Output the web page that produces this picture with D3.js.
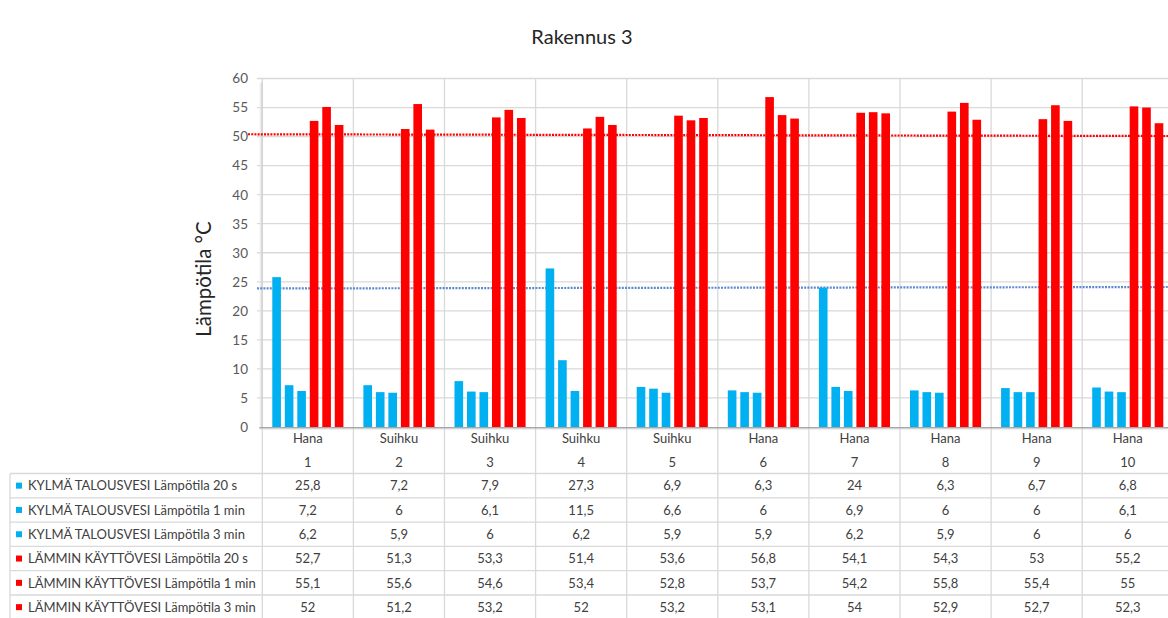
<!DOCTYPE html>
<html>
<head>
<meta charset="utf-8">
<script src="https://cdn.jsdelivr.net/npm/d3@7"></script>
<style>
  html, body { margin: 0; padding: 0; background: #fff; }
  svg { display: block; font-family: Lato, "Open Sans", sans-serif; }
</style>
</head>
<body>
<svg id="chart" width="1168" height="618"></svg>
<script>
// Measurement points (tap / shower) and their numbers
const pointTypes = ["Hana", "Suihku", "Suihku", "Suihku", "Suihku", "Hana", "Hana", "Hana", "Hana", "Hana"];
const pointIds = ["1", "2", "3", "4", "5", "6", "7", "8", "9", "10"];

// Series names
const seriesNames = [
  "KYLMÄ TALOUSVESI Lämpötila 20 s",
  "KYLMÄ TALOUSVESI Lämpötila 1 min",
  "KYLMÄ TALOUSVESI Lämpötila 3 min",
  "LÄMMIN KÄYTTÖVESI Lämpötila 20 s",
  "LÄMMIN KÄYTTÖVESI Lämpötila 1 min",
  "LÄMMIN KÄYTTÖVESI Lämpötila 3 min"
];

// Temperatures, °C
const cold20s = [25.8, 7.2, 7.9, 27.3, 6.9, 6.3, 24, 6.3, 6.7, 6.8];
const cold1min = [7.2, 6, 6.1, 11.5, 6.6, 6, 6.9, 6, 6, 6.1];
const cold3min = [6.2, 5.9, 6, 6.2, 5.9, 5.9, 6.2, 5.9, 6, 6];
const hot20s = [52.7, 51.3, 53.3, 51.4, 53.6, 56.8, 54.1, 54.3, 53, 55.2];
const hot1min = [55.1, 55.6, 54.6, 53.4, 52.8, 53.7, 54.2, 55.8, 55.4, 55];
const hot3min = [52, 51.2, 53.2, 52, 53.2, 53.1, 54, 52.9, 52.7, 52.3];

// Dotted guide lines: value at the left end and at the right end
const hotGuide = [50.4, 50.1];
const coldGuide = [23.85, 24.1];

const yTicks = [0, 5, 10, 15, 20, 25, 30, 35, 40, 45, 50, 55, 60];

const seriesValues = [cold20s, cold1min, cold3min, hot20s, hot1min, hot3min];
const COLD = "#00B0F0", HOT = "#FF0000";
const seriesColors = [COLD, COLD, COLD, HOT, HOT, HOT];

const W = 1168, H = 618;
const plot = { left: 262.3, top: 78.5, bottom: 427, catW: 91.1 };
const plotRight = plot.left + plot.catW * pointIds.length;
const svg = d3.select("#chart");
const grid = "#d9d9d9";

const x0 = d3.scaleBand().domain(pointIds).range([plot.left, plotRight]).padding(0);
const x1 = d3.scaleBand().domain(d3.range(seriesNames.length))
  .range([10, x0.bandwidth() - 10]).paddingInner(0.31).paddingOuter(0);
const y = d3.scaleLinear().domain([0, 60]).range([plot.bottom, plot.top]);

// Title
svg.append("text").attr("x", 582).attr("y", 44).attr("text-anchor", "middle")
  .attr("font-size", 20).attr("fill", "#262626").text("Rakennus 3");

// Horizontal gridlines
svg.append("g").selectAll("line").data(yTicks.filter(d => d > 0)).join("line")
  .attr("x1", 257).attr("x2", W).attr("y1", d => y(d)).attr("y2", d => y(d))
  .attr("stroke", grid).attr("stroke-width", 1.3);

// Vertical category separators (plot and table)
svg.append("g").selectAll("line").data(pointIds).join("line")
  .attr("x1", d => x0(d)).attr("x2", d => x0(d))
  .attr("y1", plot.top).attr("y2", H)
  .attr("stroke", grid).attr("stroke-width", 1.3);

// Soft shadow along the left and bottom of the plot area
const defs = svg.append("defs");
const gb = defs.append("linearGradient").attr("id", "shB").attr("x1", 0).attr("x2", 0).attr("y1", 0).attr("y2", 1);
gb.append("stop").attr("offset", 0).attr("stop-color", "#8c8c8c");
gb.append("stop").attr("offset", 1).attr("stop-color", "#ffffff").attr("stop-opacity", 0);
const gl = defs.append("linearGradient").attr("id", "shL").attr("x1", 1).attr("x2", 0).attr("y1", 0).attr("y2", 0);
gl.append("stop").attr("offset", 0).attr("stop-color", "#c8c8c8");
gl.append("stop").attr("offset", 1).attr("stop-color", "#ffffff").attr("stop-opacity", 0);
svg.append("rect").attr("x", plot.left - 4).attr("y", plot.top + 4).attr("width", 4)
  .attr("height", plot.bottom - plot.top - 4).attr("fill", "url(#shL)");
svg.append("rect").attr("x", plot.left - 3).attr("y", plot.bottom).attr("width", W - plot.left + 3)
  .attr("height", 4).attr("fill", "url(#shB)");

// Y axis tick labels
svg.append("g").selectAll("text").data(yTicks).join("text")
  .attr("x", 248).attr("y", d => y(d)).attr("dy", "0.36em").attr("text-anchor", "end")
  .attr("font-size", 13.5).attr("fill", "#595959").text(d => d);

// Y axis title
svg.append("text").attr("transform", "translate(211,279) rotate(-90)")
  .attr("text-anchor", "middle").attr("font-size", 20.5).attr("fill", "#262626")
  .text("Lämpötila °C");

// Dotted guide lines (behind bars)
const guideX = d3.scaleLinear().domain([0, 1]).range([248, W]);
svg.append("line")
  .attr("x1", guideX(0)).attr("x2", guideX(1))
  .attr("y1", y(hotGuide[0])).attr("y2", y(hotGuide[1]))
  .attr("stroke", HOT).attr("stroke-width", 2.2).attr("stroke-dasharray", "2 1.2");
svg.append("line")
  .attr("x1", 257).attr("x2", guideX(1))
  .attr("y1", y(coldGuide[0])).attr("y2", y(coldGuide[1]))
  .attr("stroke", "#5B8ACF").attr("stroke-width", 2.2).attr("stroke-dasharray", "2 1.2");

// Bars
const groups = svg.append("g").selectAll("g").data(pointIds).join("g")
  .attr("transform", d => `translate(${x0(d)},0)`);
groups.selectAll("rect")
  .data((d, i) => seriesValues.map((vals, s) => ({ s, v: vals[i] })))
  .join("rect")
  .attr("x", d => x1(d.s)).attr("width", x1.bandwidth())
  .attr("y", d => y(d.v)).attr("height", d => y(0) - y(d.v))
  .attr("fill", d => seriesColors[d.s]);

// Category labels under the plot
svg.append("g").selectAll("text").data(pointTypes).join("text")
  .attr("x", (d, i) => x0(pointIds[i]) + x0.bandwidth() / 2).attr("y", 438).attr("dy", "0.36em")
  .attr("text-anchor", "middle").attr("font-size", 13).attr("fill", "#404040").text(d => d);
svg.append("g").selectAll("text").data(pointIds).join("text")
  .attr("x", d => x0(d) + x0.bandwidth() / 2).attr("y", 462).attr("dy", "0.36em")
  .attr("text-anchor", "middle").attr("font-size", 13).attr("fill", "#404040").text(d => d);

// Data table
const rowTop = 473.5, rowH = 24.3;
const fmt = v => String(v).replace(".", ",");
const table = svg.append("g");
table.selectAll("line.h").data(d3.range(seriesNames.length + 1)).join("line")
  .attr("x1", 10).attr("x2", W)
  .attr("y1", i => rowTop + i * rowH).attr("y2", i => rowTop + i * rowH)
  .attr("stroke", grid).attr("stroke-width", 1.3);
table.append("line").attr("x1", 10).attr("x2", 10).attr("y1", rowTop).attr("y2", H)
  .attr("stroke", grid).attr("stroke-width", 1.3);

const rows = table.selectAll("g.row").data(seriesNames).join("g")
  .attr("transform", (d, i) => `translate(0,${rowTop + i * rowH + rowH / 2})`);
rows.append("rect").attr("x", 16).attr("y", -3).attr("width", 6).attr("height", 6)
  .attr("fill", (d, i) => seriesColors[i]);
rows.append("text").attr("x", 28).attr("dy", "0.36em").attr("font-size", 13)
  .attr("fill", "#404040").text(d => d);
rows.each(function (name, s) {
  d3.select(this).selectAll("text.v").data(seriesValues[s]).join("text")
    .attr("class", "v")
    .attr("x", (v, i) => x0(pointIds[i]) + x0.bandwidth() / 2).attr("dy", "0.36em")
    .attr("text-anchor", "middle").attr("font-size", 13).attr("fill", "#404040")
    .text(fmt);
});
</script>
</body>
</html>
